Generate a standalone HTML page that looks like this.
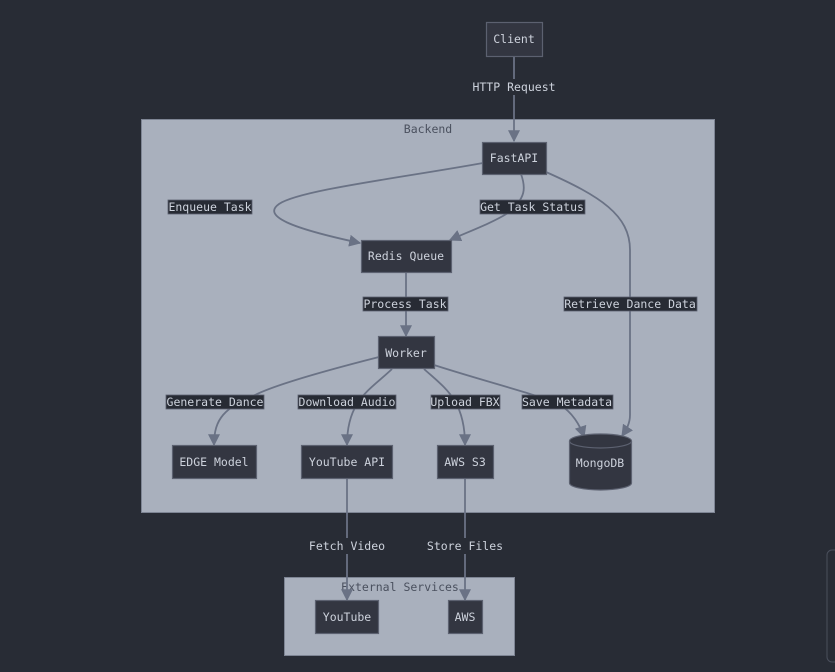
<!DOCTYPE html>
<html><head><meta charset="utf-8"><style>
html,body{margin:0;padding:0;background:#282c35;}
svg{display:block;}
text{font-family:"DejaVu Sans Mono","Liberation Mono",monospace;font-size:11.5px;fill:#cdd2dc;}
.n{fill:#333641;stroke:#5c6170;stroke-width:1.2;}
.e{fill:none;stroke:#6a7285;stroke-width:1.8;}
.lb{fill:#272b34;stroke:#5c6170;stroke-width:0.8;}
</style></head><body>
<svg width="835" height="672" viewBox="0 0 835 672" xmlns="http://www.w3.org/2000/svg">
<defs>
<marker id="a" viewBox="0 0 10 10" refX="9" refY="5" markerWidth="12" markerHeight="12" markerUnits="userSpaceOnUse" orient="auto"><path d="M0,0 L10,5 L0,10 z" fill="#6a7285"/></marker>
</defs>
<rect x="0" y="0" width="835" height="672" fill="#282c35"/>
<rect x="827" y="550" width="20" height="112" rx="5" fill="none" stroke="#4a4f5c" stroke-width="1"/>
<rect x="141.5" y="119.5" width="573" height="393" fill="#a9b0bd" stroke="#7e8594"/>
<text x="428" y="133" text-anchor="middle" style="fill:#4a505e">Backend</text>
<rect x="284.5" y="577.5" width="230" height="78" fill="#a9b0bd" stroke="#7e8594"/>
<text x="400" y="591" text-anchor="middle" style="fill:#4a505e">External Services</text>

<path class="e" d="M514,56 L514,141" marker-end="url(#a)"/>
<path class="e" d="M483,163 C400,178 300,190 279,204 C262,216 290,228 360,243" marker-end="url(#a)"/>
<path class="e" d="M521,174 C526,188 526,198 508,213 C490,224 470,231 450,240" marker-end="url(#a)"/>
<path class="e" d="M546,172 C600,196 630,215 630,250 L630,415 C630,424 626,430 622,436" marker-end="url(#a)"/>
<path class="e" d="M406,272 L406,336" marker-end="url(#a)"/>
<path class="e" d="M379,357 C320,372 275,385 255,395 C225,408 214,418 214,445" marker-end="url(#a)"/>
<path class="e" d="M392,369 C370,390 347,400 347,445" marker-end="url(#a)"/>
<path class="e" d="M424,369 C445,388 465,400 465,445" marker-end="url(#a)"/>
<path class="e" d="M434,365 C490,383 540,395 560,405 C572,412 580,425 584,437" marker-end="url(#a)"/>
<path class="e" d="M347,478 L347,600" marker-end="url(#a)"/>
<path class="e" d="M465,478 L465,600" marker-end="url(#a)"/>

<rect x="470" y="79" width="88" height="16" fill="#282c35"/>
<text x="514" y="91" text-anchor="middle">HTTP Request</text>
<rect class="lb" x="168" y="200" width="84" height="14"/>
<text x="210" y="211" text-anchor="middle">Enqueue Task</text>
<rect class="lb" x="480" y="200" width="105" height="14"/>
<text x="532" y="211" text-anchor="middle">Get Task Status</text>
<rect class="lb" x="363" y="297" width="85" height="14"/>
<text x="405" y="308" text-anchor="middle">Process Task</text>
<rect class="lb" x="564" y="297" width="133" height="14"/>
<text x="630" y="308" text-anchor="middle">Retrieve Dance Data</text>
<rect class="lb" x="166" y="395" width="98" height="14"/>
<text x="215" y="406" text-anchor="middle">Generate Dance</text>
<rect class="lb" x="298" y="395" width="98" height="14"/>
<text x="347" y="406" text-anchor="middle">Download Audio</text>
<rect class="lb" x="431" y="395" width="69" height="14"/>
<text x="465" y="406" text-anchor="middle">Upload FBX</text>
<rect class="lb" x="522" y="395" width="91" height="14"/>
<text x="567" y="406" text-anchor="middle">Save Metadata</text>
<rect x="305" y="538" width="84" height="16" fill="#282c35"/>
<text x="347" y="550" text-anchor="middle">Fetch Video</text>
<rect x="425" y="538" width="80" height="16" fill="#282c35"/>
<text x="465" y="550" text-anchor="middle">Store Files</text>

<rect class="n" x="486.5" y="22.5" width="56" height="34"/>
<text x="514" y="43" text-anchor="middle">Client</text>
<rect class="n" x="482.5" y="142.5" width="64" height="32"/>
<text x="514" y="162" text-anchor="middle">FastAPI</text>
<rect class="n" x="361.5" y="240.5" width="90" height="32"/>
<text x="406" y="260" text-anchor="middle">Redis Queue</text>
<rect class="n" x="378.5" y="336.5" width="56" height="32"/>
<text x="406" y="357" text-anchor="middle">Worker</text>
<rect class="n" x="172.5" y="445.5" width="84" height="33"/>
<text x="214" y="466" text-anchor="middle">EDGE Model</text>
<rect class="n" x="301.5" y="445.5" width="91" height="33"/>
<text x="347" y="466" text-anchor="middle">YouTube API</text>
<rect class="n" x="437.5" y="445.5" width="56" height="33"/>
<text x="465" y="466" text-anchor="middle">AWS S3</text>
<path class="n" d="M569.5,441 A31,7 0 0 1 631.5,441 L631.5,483 A31,7 0 0 1 569.5,483 Z"/>
<path d="M569.5,441 A31,7 0 0 0 631.5,441" fill="none" stroke="#5c6170" stroke-width="1.2"/>
<text x="600" y="467" text-anchor="middle">MongoDB</text>
<rect class="n" x="315.5" y="600.5" width="63" height="33"/>
<text x="347" y="621" text-anchor="middle">YouTube</text>
<rect class="n" x="448.5" y="600.5" width="34" height="33"/>
<text x="465" y="621" text-anchor="middle">AWS</text>
</svg>
</body></html>
